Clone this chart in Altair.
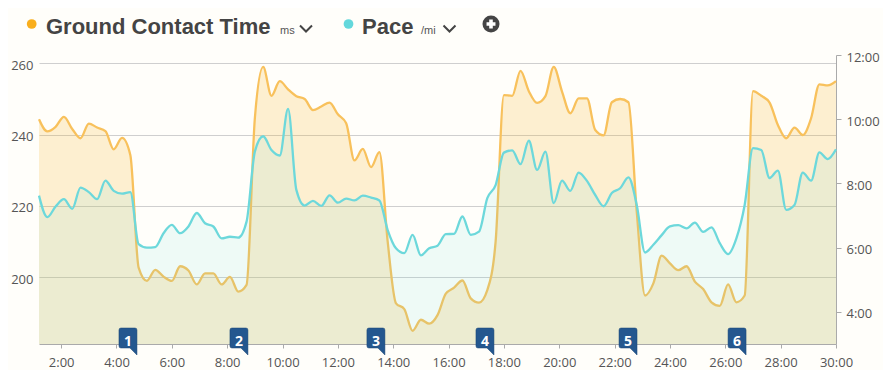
import altair as alt
import pandas as pd

times = [1.2,1.5,1.8,2.1,2.4,2.7,3.0,3.3,3.6,3.9,4.2,4.5,4.8,5.1,5.4,5.7,6.0,6.3,6.6,6.9,
         7.2,7.5,7.8,8.1,8.4,8.7,9.0,9.3,9.6,9.9,10.2,10.5,10.8,11.1,11.4,11.7,12.0,12.3,12.6,12.9,
         13.2,13.5,13.8,14.1,14.4,14.7,15.0,15.3,15.6,15.9,16.2,16.5,16.8,17.1,17.4,17.7,18.0,18.3,18.6,18.9,
         19.2,19.5,19.8,20.1,20.4,20.7,21.0,21.3,21.6,21.9,22.2,22.5,22.8,23.1,23.4,23.7,24.0,24.3,24.6,24.9,
         25.2,25.5,25.8,26.1,26.4,26.7,27.0,27.3,27.6,27.9,28.2,28.5,28.8,29.1,29.4,29.7,30.0]

gct = [244.3,240.9,242.2,245.0,241.6,239.0,243.1,242.0,241.0,235.9,239.1,234.3,202.7,199.0,202.1,200.2,199.0,203.1,201.9,198.0,
       201.1,201.1,198.0,200.1,196.0,197.9,244.6,259.0,250.9,255.0,252.7,250.8,250.0,246.9,247.9,249.0,245.7,243.2,232.8,236.0,
       230.9,235.1,210.0,192.7,191.1,185.0,188.1,187.0,189.4,195.4,197.1,199.1,194.1,192.9,196.4,210.0,251.1,250.9,257.9,252.2,
       248.9,250.8,259.0,252.1,246.0,250.2,250.2,241.3,239.8,249.1,250.0,249.1,218.4,194.9,198.3,206.1,203.9,202.0,203.1,198.8,
       196.7,193.0,192.0,198.0,193.0,194.9,252.2,250.9,249.0,242.7,239.0,242.0,239.9,244.6,254.1,253.8,255.0]

pace = [7.62,6.95,7.28,7.51,7.21,7.87,7.73,7.51,8.09,7.77,7.68,7.73,6.11,6.00,6.02,6.45,6.71,6.45,6.66,7.08,
        6.76,6.66,6.29,6.34,6.31,6.81,8.99,9.47,9.04,8.87,10.32,7.80,7.31,7.46,7.30,7.63,7.40,7.53,7.47,7.62,
        7.56,7.47,6.55,5.98,5.83,6.40,5.76,5.98,6.06,6.42,6.43,6.97,6.40,6.50,7.54,7.95,8.96,9.03,8.60,9.33,
        8.42,8.99,7.39,8.09,7.77,8.34,8.08,7.64,7.29,7.70,7.85,8.19,7.33,5.85,6.09,6.39,6.66,6.70,6.60,6.78,
        6.49,6.63,6.14,5.80,6.29,7.33,9.10,9.04,8.17,8.40,7.18,7.33,8.34,8.09,8.97,8.76,9.06]

lap_times = [4.74, 8.75, 13.70, 17.64, 22.81, 26.75]
lap_labels = ["1", "2", "3", "4", "5", "6"]

x_ticks = [2,4,6,8,10,12,14,16,18,20,22,24,26,28,30]
gct_ticks = [200,220,240,260]
pace_ticks = [4,6,8,10,12]

BG = "#FFFEFA"
ORANGE_DOT = "#F9AE1C"
ORANGE_FILL = "#F5B62A"
TEAL_DOT = "#64D8DC"
ORANGE_LINE = "#F8C15C"
TEAL_LINE = "#6DD8DB"
TXT = "#555555"
HEAD = "#444444"
AXIS_FONT = "Open Sans"
HEAD_FONT = "Liberation Sans"
GCT_DOMAIN = [181.3, 262.34]
PACE_DOMAIN = [3, 12]

df = pd.DataFrame({"t": times, "gct": gct, "pace": pace})
laps = pd.DataFrame({"t": lap_times, "label": lap_labels})
one = pd.DataFrame({"a": [0]})

xscale = alt.Scale(domain=[1.2, 30], nice=False, zero=False)
xaxis = alt.Axis(values=x_ticks, labelExpr="datum.value + ':00'", title=None, grid=False,
                 domainColor="#AAAAAA", tickColor="#AAAAAA", tickSize=4, labelPadding=8,
                 labelFont=AXIS_FONT, labelFontSize=13, labelColor=TXT, labelFlush=False,
                 labelOverlap=False)
X = alt.X("t:Q", scale=xscale, axis=xaxis)
gscale = alt.Scale(domain=GCT_DOMAIN, nice=False, zero=False)
pscale = alt.Scale(domain=PACE_DOMAIN, nice=False, zero=False)

gct_area = alt.Chart(df).mark_area(interpolate="monotone", color=ORANGE_FILL, opacity=0.2, clip=True).encode(
    x=X,
    y=alt.Y("gct:Q", scale=gscale, axis=alt.Axis(
        values=gct_ticks, title=None, domain=False, ticks=False, grid=True, gridColor="#CFCFCF",
        labelPadding=6, labelFont=AXIS_FONT, labelFontSize=13, labelColor=TXT, labelOffset=2,
        labelFlush=False)),
)
gct_line = alt.Chart(df).mark_line(interpolate="monotone", color=ORANGE_LINE, strokeWidth=2.3).encode(
    x=X, y=alt.Y("gct:Q", scale=gscale, axis=None))
pace_area = alt.Chart(df).mark_area(interpolate="monotone", color=TEAL_DOT, opacity=0.11, clip=True).encode(
    x=X,
    y=alt.Y("pace:Q", scale=pscale, axis=alt.Axis(
        orient="right", values=pace_ticks, labelExpr="datum.value + ':00'", title=None, grid=False,
        domainColor="#AAAAAA", tickColor="#AAAAAA", tickSize=5, labelPadding=5,
        labelFont=AXIS_FONT, labelFontSize=13, labelColor=TXT, labelOffset=2, labelFlush=False)),
)
pace_line = alt.Chart(df).mark_line(interpolate="monotone", color=TEAL_LINE, strokeWidth=2.3).encode(
    x=X, y=alt.Y("pace:Q", scale=pscale, axis=None))

FLAG = "M-18,-25Q-18,-27,-16,-27L-2,-27Q0,-27,0,-25L0,0L-7,-7L-16,-7Q-18,-7,-18,-9Z"
flags = alt.Chart(laps).mark_point(shape=FLAG, size=4, filled=True, fill="#24578F", opacity=1,
                                   stroke="#1B4674", strokeWidth=0.5, clip=False).encode(
    x=X, y=alt.value(300))
flag_text = alt.Chart(laps).mark_text(font=AXIS_FONT, fontSize=14, fontWeight="bold", color="white",
                                      dx=-9, baseline="middle", clip=False).encode(
    x=X, y=alt.value(286.5), text="label:N")

def label(txt, px, py, size, color=HEAD, weight="normal", font=HEAD_FONT):
    return alt.Chart(one).mark_text(text=txt, font=font, fontSize=size, fontWeight=weight, color=color,
                                    align="left", baseline="alphabetic").encode(
        x=alt.value(px - 39), y=alt.value(py - 55))

def dot(px, py, size, color, shape="circle", **kw):
    return alt.Chart(one).mark_point(shape=shape, size=size, filled=True, fill=color, opacity=1, **kw).encode(
        x=alt.value(px - 39), y=alt.value(py - 55))

CHEVRON = "M-6,-3L0,3L6,-3"
def chevron(px, py):
    return alt.Chart(one).mark_point(shape=CHEVRON, size=4, filled=False, stroke=HEAD, strokeWidth=2, opacity=1).encode(
        x=alt.value(px - 39), y=alt.value(py - 55))

head = [
    dot(31.7, 24, 95, ORANGE_DOT),
    label("Ground Contact Time", 46, 34, 22, weight="bold"),
    label("ms", 280, 34, 11, color=TXT),
    chevron(306, 28.5),
    dot(348.5, 24, 95, TEAL_DOT),
    label("Pace", 362, 34, 22, weight="bold"),
    label("/mi", 421, 34, 11, color=TXT),
    chevron(449.5, 28.5),
    dot(491, 24, 290, HEAD),
    dot(491, 24, 80, "white", shape="cross"),
]

chart = alt.layer(gct_area, gct_line, pace_area, pace_line, flags, flag_text, *head).resolve_scale(
    y="independent"
).properties(
    width=797, height=289, background=BG,
    padding={"left": 31, "top": 47, "right": 47, "bottom": 26},
    autosize=alt.AutoSizeParams(type="none"),
).configure_view(stroke=None)

chart.save("out.html", embed_options={"renderer": "svg", "actions": False})
